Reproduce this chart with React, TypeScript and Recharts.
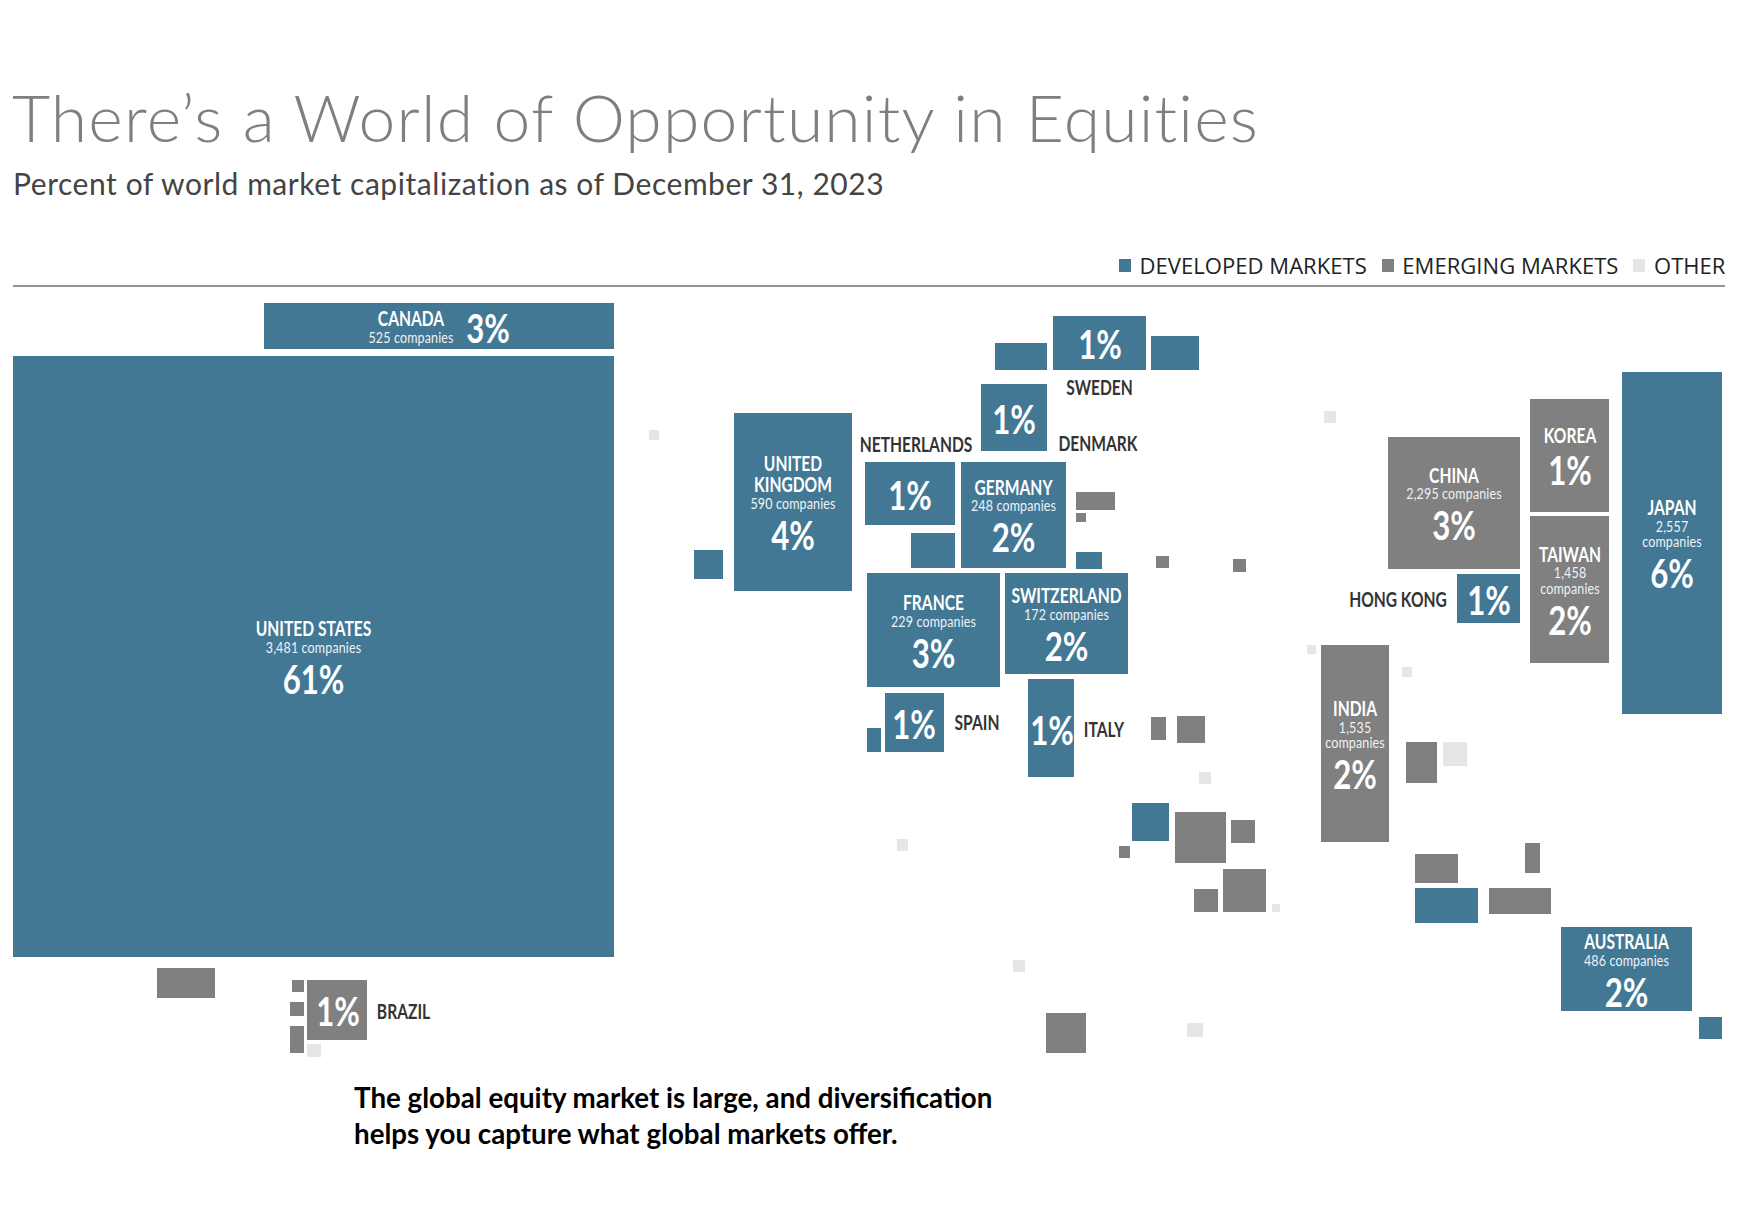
import React from 'react';
import { ScatterChart, Scatter, XAxis, YAxis, ReferenceArea, ReferenceLine, Legend } from 'recharts';

// map units of the cartogram: [left, right, top, bottom]
type Block = [number, number, number, number];

const developedBlocks: Block[] = [
  [13, 614, 356, 957], // United States
  [264, 614, 303, 349], // Canada
  [1053, 1146, 316, 370], // Sweden
  [995, 1047, 343, 370],
  [1151, 1199, 336, 370],
  [981, 1047, 384, 451], // Denmark
  [734, 852, 413, 591], // United Kingdom
  [694, 723, 550, 579],
  [865, 955, 462, 525], // Netherlands
  [911, 955, 533, 568],
  [961, 1066, 462, 568], // Germany
  [1076, 1102, 552, 569],
  [867, 1000, 573, 687], // France
  [1005, 1128, 573, 674], // Switzerland
  [885, 944, 693, 752], // Spain
  [867, 881, 728, 752],
  [1028, 1074, 679, 777], // Italy
  [1132, 1169, 803, 841],
  [1457, 1520, 574, 623], // Hong Kong
  [1622, 1722, 372, 714], // Japan
  [1415, 1478, 888, 923],
  [1561, 1692, 927, 1011], // Australia
  [1699, 1722, 1017, 1039],
];

const emergingBlocks: Block[] = [
  [1388, 1520, 437, 569], // China
  [1530, 1609, 399, 512], // Korea
  [1530, 1609, 516, 663], // Taiwan
  [1321, 1389, 645, 842], // India
  [307, 367, 980, 1040], // Brazil
  [157, 215, 968, 998],
  [292, 304, 980, 992],
  [290, 304, 1002, 1016],
  [290, 304, 1026, 1053],
  [1076, 1115, 492, 510],
  [1076, 1086, 513, 522],
  [1156, 1169, 556, 568],
  [1233, 1246, 559, 572],
  [1151, 1166, 717, 740],
  [1177, 1205, 716, 743],
  [1406, 1437, 742, 783],
  [1175, 1226, 812, 863],
  [1231, 1255, 820, 843],
  [1119, 1130, 846, 858],
  [1194, 1218, 889, 912],
  [1223, 1266, 869, 912],
  [1415, 1458, 854, 883],
  [1489, 1551, 888, 914],
  [1525, 1540, 843, 873],
  [1046, 1086, 1013, 1053],
];

const otherBlocks: Block[] = [
  [649, 659, 430, 440],
  [1324, 1336, 411, 423],
  [1307, 1316, 645, 654],
  [1402, 1412, 667, 677],
  [1443, 1467, 742, 766],
  [1199, 1211, 772, 784],
  [897, 908, 839, 851],
  [1272, 1280, 904, 912],
  [1013, 1025, 960, 972],
  [1187, 1203, 1023, 1037],
  [307, 321, 1044, 1057],
];

interface MarketLabel {
  x: number;
  y: number;
  name?: string[];
  companies?: string[];
  share?: string;
}

const developedLabels: MarketLabel[] = [
  { x: 313.5, y: 636, name: ['UNITED STATES'], companies: ['3,481 companies'], share: '61%' },
  { x: 411, y: 326, name: ['CANADA'], companies: ['525 companies'] },
  { x: 488, y: 342.5, share: '3%' },
  { x: 793, y: 470.5, name: ['UNITED', 'KINGDOM'], companies: ['590 companies'], share: '4%' },
  { x: 1013.5, y: 494.5, name: ['GERMANY'], companies: ['248 companies'], share: '2%' },
  { x: 933.5, y: 610, name: ['FRANCE'], companies: ['229 companies'], share: '3%' },
  { x: 1066.5, y: 603, name: ['SWITZERLAND'], companies: ['172 companies'], share: '2%' },
  { x: 1672, y: 515, name: ['JAPAN'], companies: ['2,557', 'companies'], share: '6%' },
  { x: 1626.5, y: 949, name: ['AUSTRALIA'], companies: ['486 companies'], share: '2%' },
  { x: 1100, y: 359, share: '1%' },
  { x: 1014, y: 433.5, share: '1%' },
  { x: 910, y: 510, share: '1%' },
  { x: 914, y: 738.5, share: '1%' },
  { x: 1052, y: 745, share: '1%' },
  { x: 1489, y: 615, share: '1%' },
];

const emergingLabels: MarketLabel[] = [
  { x: 1454, y: 482.5, name: ['CHINA'], companies: ['2,295 companies'], share: '3%' },
  { x: 1570, y: 442.5, name: ['KOREA'], share: '1%' },
  { x: 1570, y: 561.5, name: ['TAIWAN'], companies: ['1,458', 'companies'], share: '2%' },
  { x: 1355, y: 716, name: ['INDIA'], companies: ['1,535', 'companies'], share: '2%' },
  { x: 338, y: 1026, share: '1%' },
];

const outsideLabels = [
  { x: 1099.5, y: 395, text: 'SWEDEN' },
  { x: 916, y: 451.5, text: 'NETHERLANDS' },
  { x: 1098, y: 451, text: 'DENMARK' },
  { x: 977, y: 730, text: 'SPAIN' },
  { x: 1104, y: 736.5, text: 'ITALY' },
  { x: 1398, y: 606.5, text: 'HONG KONG' },
  { x: 403.5, y: 1018.5, text: 'BRAZIL' },
];

const BLUE = '#437895';
const GREY = '#808080';
const LIGHT = '#e6e6e6';
const WIDTH = 1740;
const HEIGHT = 1226;

const renderMarketLabel = (props: any) => {
  const { cx, cy, payload } = props;
  const { name = [], companies = [], share } = payload as MarketLabel;
  const rows: React.ReactNode[] = [];
  let y = 0;
  name.forEach((line, i) => {
    if (i > 0) y += 21.3;
    rows.push(
      <text key={`n${i}`} y={y} textAnchor="middle" fill="#fff" fontSize={20} fontWeight={700}>
        {line}
      </text>,
    );
  });
  companies.forEach((line, i) => {
    y += i === 0 ? 17 : 15.5;
    rows.push(
      <text key={`c${i}`} y={y} textAnchor="middle" fill="#eef2f5" fontSize={16} letterSpacing={0.2} fontWeight={400}>
        {line}
      </text>,
    );
  });
  if (share) {
    if (name.length) y += companies.length ? 41 : 43;
    rows.push(
      <text key="s" y={y} textAnchor="middle" fill="#fff" fontSize={40} fontWeight={700}>
        {share}
      </text>,
    );
  }
  return <g transform={`translate(${cx},${cy}) scale(0.78,1)`} fontFamily="Lato">{rows}</g>;
};

const renderOutsideLabel = (props: any) => {
  const { cx, cy, payload } = props;
  return (
    <g transform={`translate(${cx},${cy}) scale(0.78,1)`}>
      <text textAnchor="middle" fill="#333" fontFamily="Lato" fontSize={20} fontWeight={700}>
        {payload.text}
      </text>
    </g>
  );
};

const renderLegend = (props: any) => (
  <div style={{ display: 'flex', justifyContent: 'flex-end', paddingRight: 15, fontFamily: 'Open Sans', fontSize: 22, letterSpacing: 0.05, color: '#222', lineHeight: '28px' }}>
    {props.payload.map((item: any) => (
      <span key={item.value} style={{ display: 'flex', alignItems: 'center', marginLeft: 15 }}>
        <span style={{ width: 12, height: 13, background: item.color, marginRight: 8.5 }} />
        {item.value}
      </span>
    ))}
  </div>
);

const blocks = (list: Block[], fill: string, key: string) =>
  list.map(([x1, x2, y1, y2], i) => (
    <ReferenceArea key={`${key}${i}`} x1={x1} x2={x2} y1={y1} y2={y2} fill={fill} fillOpacity={1} stroke="none" />
  ));

export default function App() {
  return (
    <div style={{ position: 'absolute', left: 0, top: 0, width: WIDTH, height: HEIGHT, background: '#fff', overflow: 'hidden' }}>
      <div style={{ position: 'absolute', left: 12, top: 75, fontFamily: 'Lato', fontWeight: 300, fontSize: 66, letterSpacing: 1.2, color: '#7f7f7f', whiteSpace: 'nowrap', lineHeight: '84px' }}>
        There’s a World of Opportunity in Equities
      </div>
      <div style={{ position: 'absolute', left: 13, top: 163, fontFamily: 'Lato', fontSize: 30, letterSpacing: 0.55, color: '#444', whiteSpace: 'nowrap', lineHeight: '40px' }}>
        Percent of world market capitalization as of December 31, 2023
      </div>
      <ScatterChart width={WIDTH} height={HEIGHT} margin={{ top: 0, right: 0, bottom: 0, left: 0 }}>
        <XAxis type="number" dataKey="x" domain={[0, WIDTH]} hide />
        <YAxis type="number" dataKey="y" domain={[0, HEIGHT]} reversed hide />
        <ReferenceLine segment={[{ x: 13, y: 286 }, { x: 1725, y: 286 }]} stroke="#6e6e6e" strokeWidth={1.5} />
        {blocks(developedBlocks, BLUE, 'd')}
        {blocks(emergingBlocks, GREY, 'e')}
        {blocks(otherBlocks, LIGHT, 'o')}
        <Scatter name="DEVELOPED MARKETS" data={developedLabels} fill={BLUE} shape={renderMarketLabel} isAnimationActive={false} />
        <Scatter name="EMERGING MARKETS" data={emergingLabels} fill={GREY} shape={renderMarketLabel} isAnimationActive={false} />
        <Scatter name="OTHER" data={[]} fill={LIGHT} isAnimationActive={false} />
        <Scatter data={outsideLabels} legendType="none" shape={renderOutsideLabel} isAnimationActive={false} />
        <Legend content={renderLegend} layout="horizontal" verticalAlign="middle" wrapperStyle={{ top: 251, left: 36, width: WIDTH }} />
      </ScatterChart>
      <div style={{ position: 'absolute', left: 354, top: 1080, fontFamily: 'Lato', fontWeight: 700, fontSize: 28, color: '#000', lineHeight: '35.5px', whiteSpace: 'nowrap', transform: 'scaleX(0.99)', transformOrigin: 'left top' }}>
        The global equity market is large, and diversification
        <br />
        helps you capture what global markets offer.
      </div>
    </div>
  );
}
